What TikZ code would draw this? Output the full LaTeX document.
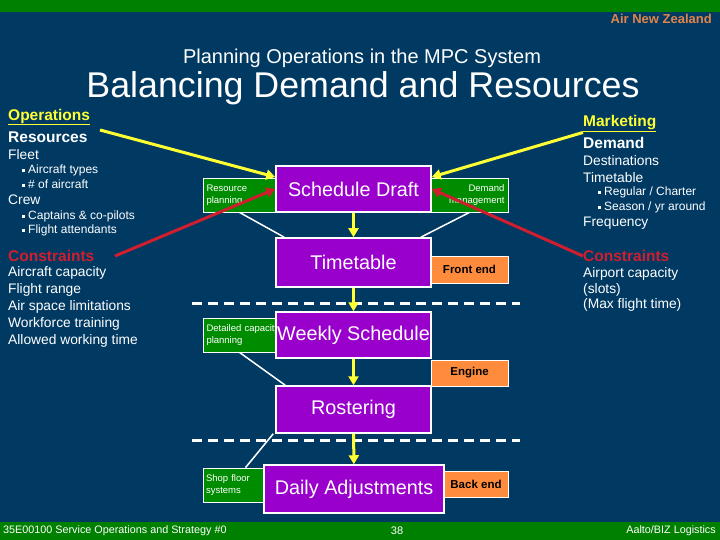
\documentclass[tikz,border=0pt]{standalone}
\usepackage{fontspec}
\setmainfont{Liberation Sans}
\usetikzlibrary{arrows.meta}
\definecolor{slidebg}{HTML}{003A63}
\definecolor{bargreen}{HTML}{008000}
\definecolor{stagepurple}{HTML}{9900CC}
\definecolor{toolgreen}{HTML}{008C00}
\definecolor{layerorange}{HTML}{FF8C3C}
\definecolor{flowyellow}{HTML}{FFFF33}
\definecolor{limitred}{HTML}{D01E2E}
\definecolor{brandorange}{HTML}{E0844A}
\tikzset{
  stage/.style={draw=white, line width=1.5pt, fill=stagepurple, text=white, inner sep=0pt, font=\fontsize{19.8}{23}\selectfont},
  tool/.style={draw=white, line width=0.8pt, fill=toolgreen, text=white, inner sep=3pt, text width=66pt, font=\fontsize{9.5}{11.5}\selectfont},
  layer/.style={draw=white, line width=0.8pt, fill=layerorange, text=black, inner sep=0pt, font=\bfseries\fontsize{11.5}{13}\selectfont},
  lbl/.style={anchor=west, inner sep=0pt, text=white, font=\fontsize{13.8}{16}\selectfont},
  sublbl/.style={anchor=west, inner sep=0pt, text=white, font=\fontsize{12}{14}\selectfont},
  head/.style={anchor=west, inner sep=0pt, font=\bfseries\fontsize{15.5}{18}\selectfont},
  flow/.style={flowyellow, line width=3pt, -{Triangle[length=9pt,width=10pt]}},
  push/.style={limitred, line width=3pt, -{Triangle[length=9pt,width=10pt]}},
  link/.style={white, line width=1.5pt},
  tier/.style={white, line width=3pt, dash pattern=on 10pt off 6pt}
}
\newcommand{\sqbullet}{\raisebox{0.25ex}{\rule{3pt}{3pt}}\hspace{3pt}}
\begin{document}
\begin{tikzpicture}[x=1pt,y=-1pt]
		% Slide background
		\fill[slidebg] (0,0) rectangle (720,540);
		\fill[bargreen] (0,0) rectangle (720,12);
		\fill[bargreen] (0,522) rectangle (720,540);
		\useasboundingbox (0,0) rectangle (720,540);
		
		% Titles
		\node (brand) at (712,19) [anchor=east, inner sep=0pt, text=brandorange, font=\bfseries\fontsize{13}{15}\selectfont] {Air New Zealand};
		\node (subtitle) at (362,58) [inner sep=0pt, text=white, font=\fontsize{20}{23}\selectfont] {Planning Operations in the MPC System};
		\node (title) at (363,88) [inner sep=0pt, text=white, font=\fontsize{35.8}{40}\selectfont] {Balancing Demand and Resources};
		
		% Operations side
		\node[head, text=flowyellow] (ops) at (8,117) {\underline{Operations}};
		\node[head, text=white] (res) at (8,137) {Resources};
		\node[lbl] (fleet) at (8,155) {Fleet};
		\node[sublbl] (types) at (22,170) {\sqbullet Aircraft types};
		\node[sublbl] (count) at (22,184) {\sqbullet \# of aircraft};
		\node[lbl] (crew) at (8,200) {Crew};
		\node[sublbl] (pilots) at (22,216) {\sqbullet Captains \& co-pilots};
		\node[sublbl] (attend) at (22,230) {\sqbullet Flight attendants};
		\node[head, text=limitred] (lcon) at (8,256) {Constraints};
		\node[lbl] (lc1) at (8,273) {Aircraft capacity};
		\node[lbl] (lc2) at (8,290) {Flight range};
		\node[lbl] (lc3) at (8,307) {Air space limitations};
		\node[lbl] (lc4) at (8,324) {Workforce training};
		\node[lbl] (lc5) at (8,341) {Allowed working time};
		
		% Marketing side
		\node[head, text=flowyellow] (mkt) at (583,124) {\underline{Marketing}};
		\node[head, text=white] (dem) at (583,143) {Demand};
		\node[lbl] (dest) at (583,161) {Destinations};
		\node[lbl] (ttbl) at (583,178) {Timetable};
		\node[sublbl] (reg) at (598,192) {\sqbullet Regular / Charter};
		\node[sublbl] (season) at (598,207) {\sqbullet Season / yr around};
		\node[lbl] (freq) at (583,223) {Frequency};
		\node[head, text=limitred] (rcon) at (583,256) {Constraints};
		\node[lbl] (rc1) at (583,274) {Airport capacity};
		\node[lbl] (rc2) at (583,290) {(slots)};
		\node[lbl] (rc3) at (583,305) {(Max flight time)};
		
		% Tier separators
		\draw[tier] (192,303) -- (520,303);
		\draw[tier] (192,440) -- (520,440);
		
		% Supporting systems
		\node[tool, minimum width=73pt, minimum height=34pt, align=left] (rp) at (239.5,195) {Resource\\planning};
		\node[tool, minimum width=77pt, minimum height=34pt, text width=70pt, align=right] (dm) at (469.5,195) {Demand\\management};
		\node[tool, minimum width=73pt, minimum height=34pt, align=left] (dc) at (239.5,335) {\mbox{Detailed capacity}\\planning};
		\node[tool, minimum width=61pt, minimum height=34pt, text width=55pt, align=left] (sf) at (233.5,485) {Shop floor\\systems};
		\node[layer, minimum width=77pt, minimum height=27pt] (fe) at (469.5,269.5) {Front end};
		\node[layer, minimum width=77pt, minimum height=26pt] (en) at (469.5,373) {Engine};
		\node[layer, minimum width=64pt, minimum height=26pt] (be) at (476,484) {Back end};
		
		% Planning stages
		\node[stage, minimum width=155pt, minimum height=46pt] (sd) at (353.5,189) {Schedule Draft};
		\node[stage, minimum width=155pt, minimum height=49pt] (tt) at (353.5,262.5) {Timetable};
		\node[stage, minimum width=155pt, minimum height=46pt] (ws) at (353.5,335) {Weekly Schedule};
		\node[stage, minimum width=155pt, minimum height=47pt] (ro) at (353.5,409.5) {Rostering};
		\node[stage, minimum width=180pt, minimum height=48pt] (da) at (354,489) {Daily Adjustments};
		
		% Links to the systems
		\draw[link] (rp.south) -- ([xshift=9pt]tt.north west);
		\draw[link] (dm.south) -- ([xshift=-11pt]tt.north east);
		\draw[link] (dc.south) -- ([xshift=10pt]ro.north west);
		\draw[link] ([xshift=-2pt]ro.south west) -- ([xshift=12pt]sf.north);
		
		% Flow between stages
		\draw[flow] (sd) -- (tt);
		\draw[flow] (tt) -- (ws);
		\draw[flow] (ws) -- (ro);
		\draw[flow] (ro) -- (da);
		
		% Inputs to the draft
		\coordinate (opsfrom) at (100,130);
		\coordinate (lconfrom) at (115,256);
		\draw[flow] (opsfrom) -- ([yshift=12pt]sd.west);
		\draw[flow] (mkt.south west) -- ([yshift=12pt]sd.east);
		\draw[push] (lconfrom) -- (sd.west);
		\draw[push] (rcon.west) -- (sd.east);
		
		% Footer
		\node (course) at (3,531) [anchor=west, inner sep=0pt, text=white, font=\fontsize{10.8}{12}\selectfont] {35E00100 Service Operations and Strategy \#0};
		\node (page) at (397,531) [inner sep=0pt, text=white, font=\fontsize{11}{12}\selectfont] {38};
		\node (dept) at (716,531) [anchor=east, inner sep=0pt, text=white, font=\fontsize{10.8}{12}\selectfont] {Aalto/BIZ Logistics};
		
	\end{tikzpicture}
\end{document}
